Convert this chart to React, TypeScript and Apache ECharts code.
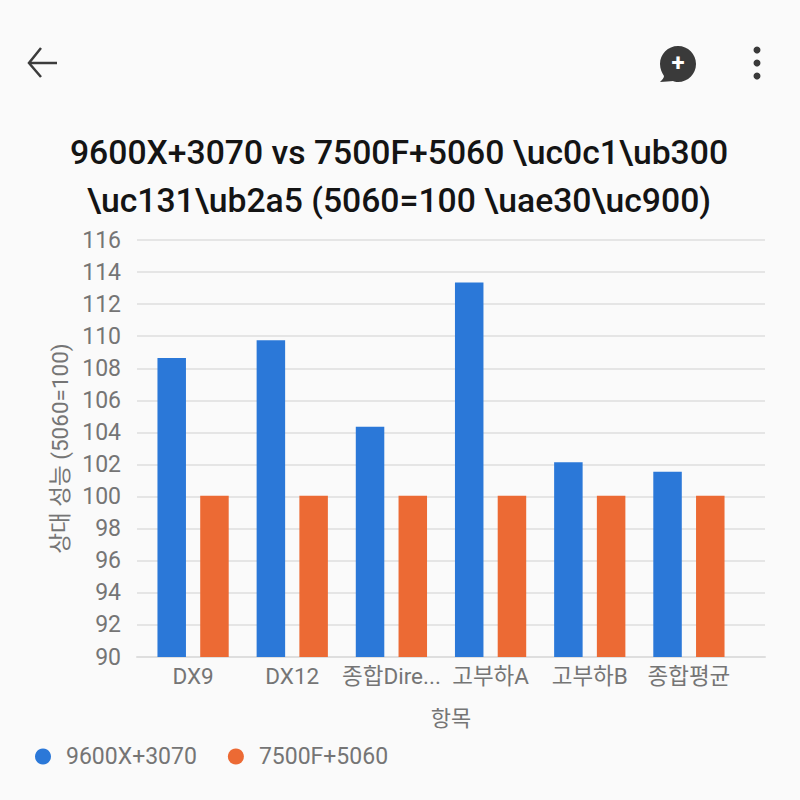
import React, { useEffect, useRef } from "react";
import * as echarts from "echarts";

const categories = ["DX9", "DX12", "종합DirectX", "고부하A", "고부하B", "종합평균"];
const seriesA = [108.65, 109.75, 104.35, 113.35, 102.15, 101.55];
const seriesB = [100.05, 100.05, 100.05, 100.05, 100.05, 100.05];
const titleLines = "9600X+3070 vs 7500F+5060 \\uc0c1\\ub300\n\\uc131\\ub2a5 (5060=100 \\uae30\\uc900)";
const FONT = "Roboto, 'Noto Sans CJK KR', sans-serif";
const GRAY = "#757575";

echarts.graphic.registerShape(
  "bubble",
  echarts.graphic.extendPath(
    "M18 0C8 0 0 8 0 18C0 23 2 27 4 30C4 32 2 34 0 36C5 36 10 35 13 35C14.5 35.7 16 36 18 36C28 36 36 28 36 18C36 8 28 0 18 0Z",
    {}
  )
);

export default function App() {
  const ref = useRef<HTMLDivElement>(null);
  useEffect(() => {
    const chart = echarts.init(ref.current!, undefined, { renderer: "svg" });
    chart.setOption({
      animation: false,
      backgroundColor: "#fafafa",
      textStyle: { fontFamily: FONT },
      title: {
        text: titleLines,
        left: 394,
        top: 123,
        textAlign: "center",
        textStyle: { fontFamily: FONT, fontSize: 33.7, fontWeight: 500, color: "#141414", lineHeight: 48 },
      },
      legend: {
        left: 30,
        top: 740,
        icon: "circle",
        itemWidth: 16,
        itemHeight: 16,
        itemGap: 31,
        textStyle: { fontFamily: FONT, fontSize: 23, color: GRAY, padding: [0, 0, 0, 10] },
      },
      grid: [
        { left: 137, right: 35, top: 240, bottom: 143 },
        { left: 143.5, right: 61.5, top: 240, bottom: 143 },
      ],
      xAxis: [
        {
          gridIndex: 0,
          type: "category",
          data: categories,
          name: "항목",
          nameLocation: "middle",
          nameGap: 50,
          nameTextStyle: { fontFamily: FONT, fontSize: 22, color: GRAY },
          axisLine: { show: true, lineStyle: { color: "#dedede", width: 2 } },
          axisTick: { show: false },
          axisLabel: { show: false },
        },
        {
          gridIndex: 1,
          type: "category",
          data: categories,
          axisLine: { show: false },
          axisTick: { show: false },
          axisLabel: {
            fontFamily: FONT,
            fontSize: 22.5,
            color: GRAY,
            margin: 8,
            interval: 0,
            width: 103,
            overflow: "truncate",
            ellipsis: "...",
          },
        },
      ],
      yAxis: [
        {
          gridIndex: 0,
          type: "value",
          min: 90,
          max: 116,
          interval: 2,
          name: "상대 성능 (5060=100)",
          nameLocation: "middle",
          nameGap: 66,
          nameTextStyle: { fontFamily: FONT, fontSize: 22.5, color: GRAY },
          axisLine: { show: false },
          axisTick: { show: false },
          axisLabel: { fontFamily: FONT, fontSize: 23, color: GRAY, margin: 16 },
          splitLine: { lineStyle: { color: "#dedede", width: 1.5 } },
        },
        {
          gridIndex: 1,
          type: "value",
          min: 90,
          max: 116,
          interval: 2,
          axisLine: { show: false },
          axisTick: { show: false },
          axisLabel: { show: false },
          splitLine: { show: false },
        },
      ],
      series: [
        {
          name: "9600X+3070",
          type: "bar",
          xAxisIndex: 1,
          yAxisIndex: 1,
          data: seriesA,
          barWidth: 28.5,
          barGap: "50%",
          itemStyle: { color: "#2b78d8" },
        },
        {
          name: "7500F+5060",
          type: "bar",
          xAxisIndex: 1,
          yAxisIndex: 1,
          data: seriesB,
          barWidth: 28.5,
          barGap: "50%",
          itemStyle: { color: "#ec6a34" },
        },
      ],
      graphic: [
        {
          type: "polyline",
          shape: { points: [[41, 48], [29, 63], [41, 77]] },
          style: { stroke: "#3c3c3c", lineWidth: 2.5, fill: "none" },
        },
        {
          type: "line",
          shape: { x1: 29, y1: 63, x2: 57, y2: 63 },
          style: { stroke: "#3c3c3c", lineWidth: 2.5 },
        },
        { type: "bubble", x: 660, y: 46, scaleX: 1, scaleY: 1, style: { fill: "#3a3a3a" } },
        {
          type: "text",
          x: 678,
          y: 63,
          style: {
            text: "+",
            fill: "#ffffff",
            fontFamily: FONT,
            fontSize: 24,
            fontWeight: 700,
            align: "center",
            verticalAlign: "middle",
          },
        },
        { type: "circle", shape: { cx: 757, cy: 50, r: 3.5 }, style: { fill: "#3a3a3a" } },
        { type: "circle", shape: { cx: 757, cy: 63, r: 3.5 }, style: { fill: "#3a3a3a" } },
        { type: "circle", shape: { cx: 757, cy: 76, r: 3.5 }, style: { fill: "#3a3a3a" } },
      ],
    });
    return () => chart.dispose();
  }, []);
  return <div ref={ref} style={{ position: "fixed", left: 0, top: 0, width: 800, height: 800 }} />;
}
